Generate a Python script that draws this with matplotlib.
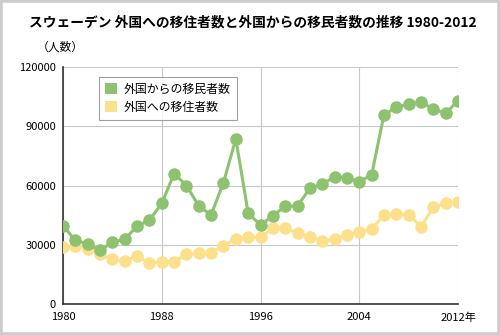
import numpy as np
import matplotlib.pyplot as plt
from matplotlib.patches import Patch, Rectangle

plt.rcParams['font.family'] = ['Noto Sans CJK JP', 'DejaVu Sans']

# Donnees
years = list(range(1980, 2013))
immig = [39700, 32200, 30500, 27100, 31300, 32800, 39400, 42500, 50900, 66000,
         60000, 49600, 45100, 61500, 83600, 46000, 40000, 44700, 49400, 49700,
         58600, 60800, 64200, 64000, 62000, 65200, 95800, 99600, 101200, 102200,
         98700, 96500, 103000]
emig = [28800, 29300, 28100, 25100, 22600, 21800, 24300, 20600, 21400, 21400,
        25100, 25600, 25800, 29600, 32700, 33800, 33800, 38300, 38500, 35800,
        33800, 31800, 32700, 35000, 36500, 38000, 44900, 45400, 45100, 39200,
        48900, 51100, 51600]
xticks = [1980, 1988, 1996, 2004, 2012]
xticklabels = ['1980', '1988', '1996', '2004', '2012年']
yticks = [0, 30000, 60000, 90000, 120000]

green = '#8dc26f'
yellow = '#fde08c'

fig = plt.figure(figsize=(5, 3.35), dpi=100)
ax = fig.add_axes([0.126, 0.0925, 0.79, 0.7075])

ax.plot(years, emig, color=yellow, lw=2.2, marker='o', ms=8, zorder=3)
ax.plot(years, immig, color=green, lw=2.2, marker='o', ms=8, zorder=4)

ax.set_xlim(1980, 2012)
ax.set_ylim(0, 120000)
ax.set_xticks(xticks)
ax.set_xticklabels(xticklabels)
ax.set_yticks(yticks)
ax.grid(True, color='#c8c8c8', lw=0.8)
ax.set_axisbelow(True)
for s in ['top', 'right']:
    ax.spines[s].set_visible(False)
for s in ['left', 'bottom']:
    ax.spines[s].set_color('#333333')
    ax.spines[s].set_linewidth(1.2)
ax.tick_params(length=0, labelsize=8)
ax.tick_params(axis='x', pad=6)
ax.tick_params(axis='y', pad=5)

handles = [Patch(facecolor=green, edgecolor='none'),
           Patch(facecolor=yellow, edgecolor='none')]
leg = ax.legend(handles, ['外国からの移民者数', '外国への移住者数'],
                loc='upper left', bbox_to_anchor=(0.075, 0.985),
                fontsize=8.6, frameon=True, fancybox=False,
                handlelength=1.0, handleheight=1.0, handletextpad=0.6,
                borderpad=0.5, labelspacing=0.45)
leg.get_frame().set_edgecolor('#888888')
leg.get_frame().set_linewidth(0.8)

fig.text(0.505, 0.932, 'スウェーデン 外国への移住者数と外国からの移民者数の推移 1980-2012',
         ha='center', va='center', fontsize=9.9, fontweight='bold')
fig.text(0.074, 0.86, '（人数）', ha='left', va='center', fontsize=8.5)

fig.patches.append(Rectangle((0, 0), 1, 1, transform=fig.transFigure,
                             fill=False, edgecolor='#cccccc', lw=4))

fig.savefig('out.png', dpi=100)
